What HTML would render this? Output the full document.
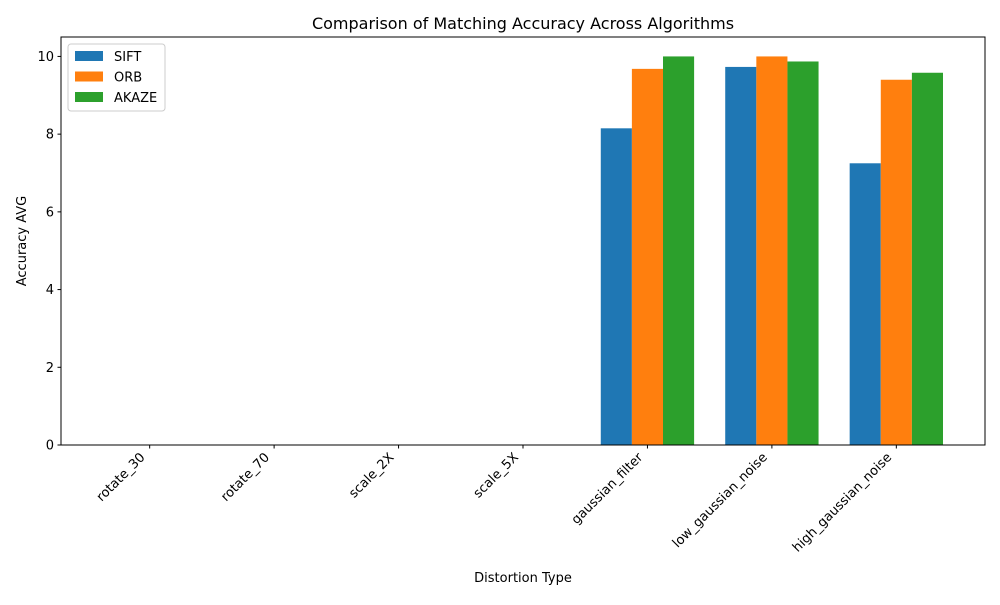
<!DOCTYPE html>
<html><head><meta charset="utf-8"><style>
body{margin:0;background:#fff;font-family:"Liberation Sans","DejaVu Sans",sans-serif;}
text{font-family:"DejaVu Sans","Liberation Sans",sans-serif;}
</style></head><body>
<svg id="chart" width="1000" height="600" xmlns="http://www.w3.org/2000/svg"></svg>
<script>
const categories = ["rotate_30","rotate_70","scale_2X","scale_5X","gaussian_filter","low_gaussian_noise","high_gaussian_noise"];
const seriesNames = ["SIFT","ORB","AKAZE"];
const siftValues = [0,0,0,0,8.15,9.73,7.25];
const orbValues = [0,0,0,0,9.68,10.0,9.4];
const akazeValues = [0,0,0,0,10.0,9.87,9.58];
const yTicks = [0,2,4,6,8,10];
const colors = ["#1f77b4","#ff7f0e","#2ca02c"];
const series = [siftValues, orbValues, akazeValues];

const svg = document.getElementById('chart');
const NS = "http://www.w3.org/2000/svg";
const L=61,R=985,T=37,B=445;
const xMin=-0.7125,xMax=6.7125,yMax=10.5;
const xs = v => L+(v-xMin)/(xMax-xMin)*(R-L);
const ys = v => B-v/yMax*(B-T);
function mk(tag, attrs, parent){const e=document.createElementNS(NS,tag);for(const k in attrs)e.setAttribute(k,attrs[k]);(parent||svg).appendChild(e);return e;}

const title = mk('text',{x:(L+R)/2,y:29,'text-anchor':'middle','font-size':16,fill:'#000'});


title.textContent='Comparison of Matching Accuracy Across Algorithms';

const bw = 0.25;
series.forEach((vals, si) => {
  vals.forEach((v, ci) => {
    const cx = ci + (si-1)*bw;
    const x0 = xs(cx-bw/2), x1 = xs(cx+bw/2);
    const r = mk('rect',{x:x0,y:ys(v),width:x1-x0,height:ys(0)-ys(v),fill:colors[si]});
    
    
  });
});

const frame = mk('rect',{x:L,y:T,width:R-L,height:B-T,fill:'none',stroke:'#000','stroke-width':1});



yTicks.forEach(t => {
  const y = ys(t);
  mk('line',{x1:L-3.5,x2:L,y1:y,y2:y,stroke:'#000'});
  const tx = mk('text',{x:L-7,y:y+4.5,'text-anchor':'end','font-size':13,fill:'#000'});
  
  
  tx.textContent = t;
});

categories.forEach((c, i) => {
  const x = xs(i);
  mk('line',{x1:x,x2:x,y1:B,y2:B+3.5,stroke:'#000'});
  const ax = x-4, ay = B+13;
  const tx = mk('text',{x:ax,y:ay,'text-anchor':'end','font-size':13,fill:'#000',transform:`rotate(-45 ${ax} ${ay})`});
  
  
  tx.textContent = c;
});

const xt = mk('text',{x:(L+R)/2,y:582,'text-anchor':'middle','font-size':13,fill:'#000'});


xt.textContent='Distortion Type';
const yt = mk('text',{x:26,y:(T+B)/2,'text-anchor':'middle','font-size':13,fill:'#000',transform:`rotate(-90 26 ${(T+B)/2})`});


yt.textContent='Accuracy AVG';

const lg = mk('g',{});


mk('rect',{x:68,y:44,width:97,height:67,rx:3,fill:'#fff',stroke:'#ccc'},lg);
seriesNames.forEach((n, i) => {
  const y = 56 + i*20.5;
  mk('rect',{x:75,y:y-5,width:28,height:10,fill:colors[i]},lg);
  const t = mk('text',{x:114,y:y+5,'font-size':13,fill:'#000'},lg);
  
  
  t.textContent = n;
});
</script>
</body></html>
